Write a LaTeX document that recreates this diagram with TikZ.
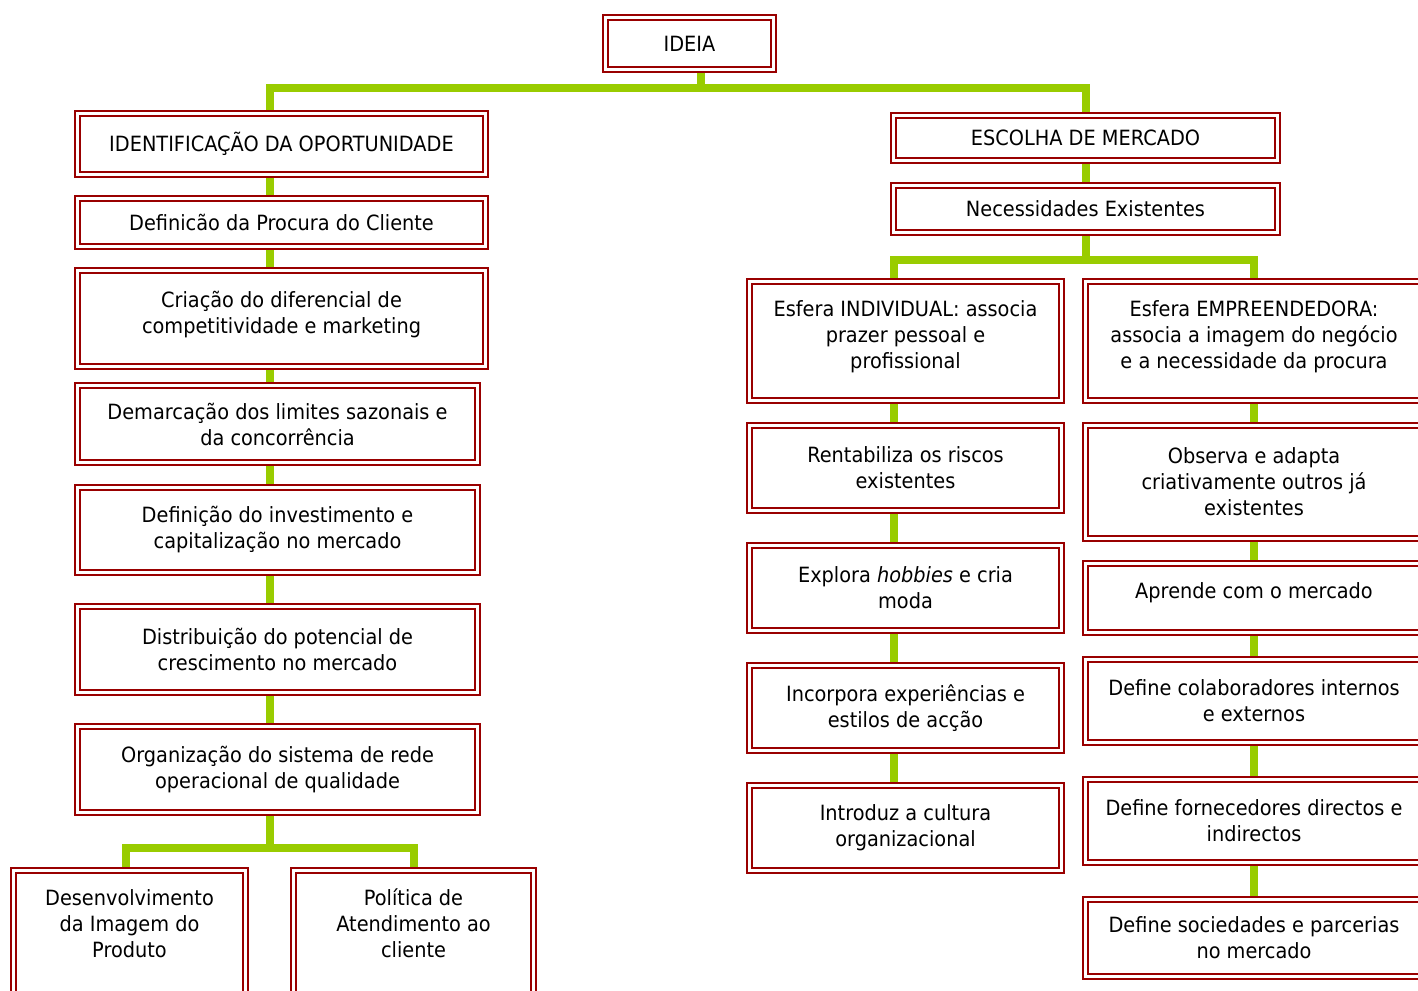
\documentclass[tikz,border=0pt]{standalone}
\usepackage{fontspec}
\setmainfont{DejaVu Sans}[FakeStretch=0.92]
\usetikzlibrary{positioning,backgrounds}
\definecolor{boxred}{RGB}{153,0,0}
\definecolor{linkgreen}{RGB}{153,204,0}

\begin{document}
\begin{tikzpicture}[
x=1pt, y=-1pt,
box/.style={draw=boxred, line width=2.2pt, double=white,
  double distance=2.4pt, fill=white, align=center, inner sep=2pt,
  font=\fontsize{21}{26}\selectfont},
link/.style={draw=linkgreen, line width=7.5pt}
]

\useasboundingbox (0,0) rectangle (1418,990);
\clip (0,0) rectangle (1418,990);

\node[box, minimum width=168pt, minimum height=52pt] (ideia)
at (689.5,43.5) {IDEIA};

% left branch
\node[box, minimum width=408pt, minimum height=61pt] (idf)
at (281.5,144) {IDENTIFICAÇÃO DA OPORTUNIDADE};

\node[box, minimum width=408pt, minimum height=48pt] (dpc)
at (281.5,222.5) {Definicão da Procura do Cliente};

\node[box, minimum width=408pt, minimum height=96pt] (cri)
at (281.5,318.5) {Criação do diferencial de\\competitividade e marketing\\[-14pt]\mbox{}};

\node[box, minimum width=400pt, minimum height=77pt] (dem)
at (277.5,424) {Demarcação dos limites sazonais e\\da concorrência};

\node[box, minimum width=400pt, minimum height=85pt] (inv)
at (277.5,530) {Definição do investimento e\\capitalização no mercado};

\node[box, minimum width=400pt, minimum height=86pt] (dis)
at (277.5,649.5) {Distribuição do potencial de\\crescimento no mercado};

\node[box, minimum width=400pt, minimum height=86pt] (org)
at (277.5,769.5) {Organização do sistema de rede\\operacional de qualidade};

\node[box, minimum width=232pt, minimum height=126pt] (dip)
at (129.5,933.5) {Desenvolvimento\\da Imagem do\\Produto\\[-6pt]\mbox{}};

\node[box, minimum width=240pt, minimum height=126pt] (pol)
at (413.5,933.5) {Política de\\Atendimento ao\\cliente\\[-6pt]\mbox{}};

% right branch
\node[box, minimum width=384pt, minimum height=45pt] (esc)
at (1085.5,138) {ESCOLHA DE MERCADO};

\node[box, minimum width=384pt, minimum height=47pt] (nec)
at (1085.5,209) {Necessidades Existentes};

\node[box, minimum width=312pt, minimum height=119pt] (ind)
at (905.5,341) {Esfera INDIVIDUAL: associa\\prazer pessoal e\\profissional\\[-14pt]\mbox{}};

\node[box, minimum width=312pt, minimum height=85pt] (ren)
at (905.5,468) {Rentabiliza os riscos\\existentes};

\node[box, minimum width=312pt, minimum height=85pt] (exp)
at (905.5,588) {Explora \textit{hobbies} e cria\\moda};

\node[box, minimum width=312pt, minimum height=85pt] (inc)
at (905.5,708) {Incorpora experiências e\\estilos de acção};

\node[box, minimum width=312pt, minimum height=85pt] (itr)
at (905.5,828) {Introduz a cultura\\organizacional};

\node[box, minimum width=337pt, minimum height=119pt] (emp)
at (1254,341) {Esfera EMPREENDEDORA:\\associa a imagem do negócio\\e a necessidade da procura\\[-14pt]\mbox{}};

\node[box, minimum width=337pt, minimum height=113pt] (obs)
at (1254,482) {Observa e adapta\\criativamente outros já\\existentes};

\node[box, minimum width=337pt, minimum height=69pt] (apr)
at (1254,598) {Aprende com o mercado\\[-12pt]\mbox{}};

\node[box, minimum width=337pt, minimum height=83pt] (col)
at (1254,701) {Define colaboradores internos\\e externos};

\node[box, minimum width=337pt, minimum height=83pt] (frn)
at (1254,821) {Define fornecedores directos e\\indirectos};

\node[box, minimum width=337pt, minimum height=77pt] (soc)
at (1254,938) {Define sociedades e parcerias\\no mercado};

% junctions
\coordinate (tbus) at (701,88);
\coordinate (lsp) at (270,848);
\coordinate (dsp) at (126,848);
\coordinate (psp) at (414,848);
\coordinate (rsp) at (1086,260);
\coordinate (isp) at (894,260);
\coordinate (esp) at (1254,260);

\begin{scope}[on background layer]
\draw[link] (ideia -| tbus) -- (tbus);
\draw[link] (idf -| lsp) |- (tbus) -| (esc -| rsp);

\draw[link] (idf -| lsp) -- (lsp);
\draw[link] (dip -| dsp) |- (lsp) -| (pol -| psp);

\draw[link] (esc -| rsp) -- (rsp);
\draw[link] (ind -| isp) |- (rsp) -| (emp -| esp);
\draw[link] (ind -| isp) -- (itr -| isp);
\draw[link] (emp -| esp) -- (soc -| esp);
\end{scope}

\end{tikzpicture}
\end{document}
